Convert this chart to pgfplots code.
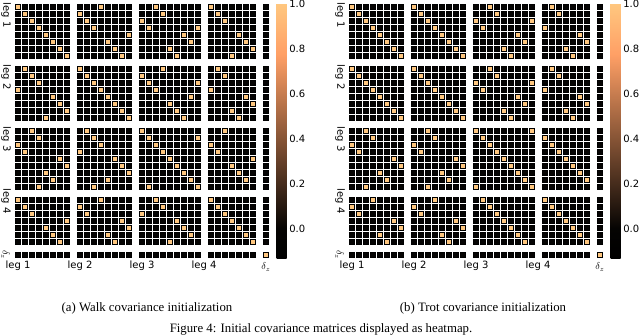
\documentclass[border=0pt]{standalone}
\usepackage{pgfplots}
\pgfplotsset{compat=1.18}
\usepackage{pgfplotstable}
\usepackage{fontspec}
\setmainfont{DejaVu Sans}
\newfontfamily\capfont{Liberation Serif}

% walk: rows = leg 1..4 (8 each) + delta_z
\pgfplotstableread[header=false]{
1 0 0 0 0 0 0 0  0 0 0 1 0 0 0 0  0 0 1 0 0 0 0 0  0 1 0 0 0 0 0 0  0
0 1 0 0 0 0 0 0  1 0 0 0 0 0 0 0  0 0 0 1 0 0 0 0  0 0 1 0 0 0 0 0  0
0 0 1 0 0 0 0 0  0 1 0 0 0 0 0 0  1 0 0 0 0 0 0 0  0 0 0 1 0 0 0 0  0
0 0 0 1 0 0 0 0  0 0 1 0 0 0 0 0  0 1 0 0 0 0 0 0  1 0 0 0 0 0 0 0  0
0 0 0 0 1 0 0 0  0 0 0 0 0 0 0 1  0 0 0 0 0 0 1 0  0 0 0 0 0 1 0 0  0
0 0 0 0 0 1 0 0  0 0 0 0 1 0 0 0  0 0 0 0 0 0 0 1  0 0 0 0 0 0 1 0  0
0 0 0 0 0 0 1 0  0 0 0 0 0 1 0 0  0 0 0 0 1 0 0 0  0 0 0 0 0 0 0 1  0
0 0 0 0 0 0 0 1  0 0 0 0 0 0 1 0  0 0 0 0 0 1 0 0  0 0 0 0 1 0 0 0  0
0 1 0 0 0 0 0 0  1 0 0 0 0 0 0 0  0 0 0 1 0 0 0 0  0 0 1 0 0 0 0 0  0
0 0 1 0 0 0 0 0  0 1 0 0 0 0 0 0  1 0 0 0 0 0 0 0  0 0 0 1 0 0 0 0  0
0 0 0 1 0 0 0 0  0 0 1 0 0 0 0 0  0 1 0 0 0 0 0 0  1 0 0 0 0 0 0 0  0
1 0 0 0 0 0 0 0  0 0 0 1 0 0 0 0  0 0 1 0 0 0 0 0  0 1 0 0 0 0 0 0  0
0 0 0 0 0 1 0 0  0 0 0 0 1 0 0 0  0 0 0 0 0 0 0 1  0 0 0 0 0 0 1 0  0
0 0 0 0 0 0 1 0  0 0 0 0 0 1 0 0  0 0 0 0 1 0 0 0  0 0 0 0 0 0 0 1  0
0 0 0 0 0 0 0 1  0 0 0 0 0 0 1 0  0 0 0 0 0 1 0 0  0 0 0 0 1 0 0 0  0
0 0 0 0 1 0 0 0  0 0 0 0 0 0 0 1  0 0 0 0 0 0 1 0  0 0 0 0 0 1 0 0  0
0 0 1 0 0 0 0 0  0 1 0 0 0 0 0 0  1 0 0 0 0 0 0 0  0 0 0 1 0 0 0 0  0
0 0 0 1 0 0 0 0  0 0 1 0 0 0 0 0  0 1 0 0 0 0 0 0  1 0 0 0 0 0 0 0  0
1 0 0 0 0 0 0 0  0 0 0 1 0 0 0 0  0 0 1 0 0 0 0 0  0 1 0 0 0 0 0 0  0
0 1 0 0 0 0 0 0  1 0 0 0 0 0 0 0  0 0 0 1 0 0 0 0  0 0 1 0 0 0 0 0  0
0 0 0 0 0 0 1 0  0 0 0 0 0 1 0 0  0 0 0 0 1 0 0 0  0 0 0 0 0 0 0 1  0
0 0 0 0 0 0 0 1  0 0 0 0 0 0 1 0  0 0 0 0 0 1 0 0  0 0 0 0 1 0 0 0  0
0 0 0 0 1 0 0 0  0 0 0 0 0 0 0 1  0 0 0 0 0 0 1 0  0 0 0 0 0 1 0 0  0
0 0 0 0 0 1 0 0  0 0 0 0 1 0 0 0  0 0 0 0 0 0 0 1  0 0 0 0 0 0 1 0  0
0 0 0 1 0 0 0 0  0 0 1 0 0 0 0 0  0 1 0 0 0 0 0 0  1 0 0 0 0 0 0 0  0
1 0 0 0 0 0 0 0  0 0 0 1 0 0 0 0  0 0 1 0 0 0 0 0  0 1 0 0 0 0 0 0  0
0 1 0 0 0 0 0 0  1 0 0 0 0 0 0 0  0 0 0 1 0 0 0 0  0 0 1 0 0 0 0 0  0
0 0 1 0 0 0 0 0  0 1 0 0 0 0 0 0  1 0 0 0 0 0 0 0  0 0 0 1 0 0 0 0  0
0 0 0 0 0 0 0 1  0 0 0 0 0 0 1 0  0 0 0 0 0 1 0 0  0 0 0 0 1 0 0 0  0
0 0 0 0 1 0 0 0  0 0 0 0 0 0 0 1  0 0 0 0 0 0 1 0  0 0 0 0 0 1 0 0  0
0 0 0 0 0 1 0 0  0 0 0 0 1 0 0 0  0 0 0 0 0 0 0 1  0 0 0 0 0 0 1 0  0
0 0 0 0 0 0 1 0  0 0 0 0 0 1 0 0  0 0 0 0 1 0 0 0  0 0 0 0 0 0 0 1  0
0 0 0 0 0 0 0 0  0 0 0 0 0 0 0 0  0 0 0 0 0 0 0 0  0 0 0 0 0 0 0 0  1
}\walk

% trot
\pgfplotstableread[header=false]{
1 0 0 0 0 0 0 0  1 0 0 0 0 0 0 0  0 0 1 0 0 0 0 0  0 0 1 0 0 0 0 0  0
0 1 0 0 0 0 0 0  0 1 0 0 0 0 0 0  0 0 0 1 0 0 0 0  0 0 0 1 0 0 0 0  0
0 0 1 0 0 0 0 0  0 0 1 0 0 0 0 0  1 0 0 0 0 0 0 0  1 0 0 0 0 0 0 0  0
0 0 0 1 0 0 0 0  0 0 0 1 0 0 0 0  0 1 0 0 0 0 0 0  0 1 0 0 0 0 0 0  0
0 0 0 0 1 0 0 0  0 0 0 0 1 0 0 0  0 0 0 0 0 0 1 0  0 0 0 0 0 0 1 0  0
0 0 0 0 0 1 0 0  0 0 0 0 0 1 0 0  0 0 0 0 0 0 0 1  0 0 0 0 0 0 0 1  0
0 0 0 0 0 0 1 0  0 0 0 0 0 0 1 0  0 0 0 0 1 0 0 0  0 0 0 0 1 0 0 0  0
0 0 0 0 0 0 0 1  0 0 0 0 0 0 0 1  0 0 0 0 0 1 0 0  0 0 0 0 0 1 0 0  0
1 0 0 0 0 0 0 0  1 0 0 0 0 0 0 0  0 0 1 0 0 0 0 0  0 0 1 0 0 0 0 0  0
0 1 0 0 0 0 0 0  0 1 0 0 0 0 0 0  0 0 0 1 0 0 0 0  0 0 0 1 0 0 0 0  0
0 0 1 0 0 0 0 0  0 0 1 0 0 0 0 0  1 0 0 0 0 0 0 0  1 0 0 0 0 0 0 0  0
0 0 0 1 0 0 0 0  0 0 0 1 0 0 0 0  0 1 0 0 0 0 0 0  0 1 0 0 0 0 0 0  0
0 0 0 0 1 0 0 0  0 0 0 0 1 0 0 0  0 0 0 0 0 0 1 0  0 0 0 0 0 0 1 0  0
0 0 0 0 0 1 0 0  0 0 0 0 0 1 0 0  0 0 0 0 0 0 0 1  0 0 0 0 0 0 0 1  0
0 0 0 0 0 0 1 0  0 0 0 0 0 0 1 0  0 0 0 0 1 0 0 0  0 0 0 0 1 0 0 0  0
0 0 0 0 0 0 0 1  0 0 0 0 0 0 0 1  0 0 0 0 0 1 0 0  0 0 0 0 0 1 0 0  0
0 0 1 0 0 0 0 0  0 0 1 0 0 0 0 0  1 0 0 0 0 0 0 0  1 0 0 0 0 0 0 0  0
0 0 0 1 0 0 0 0  0 0 0 1 0 0 0 0  0 1 0 0 0 0 0 0  0 1 0 0 0 0 0 0  0
1 0 0 0 0 0 0 0  1 0 0 0 0 0 0 0  0 0 1 0 0 0 0 0  0 0 1 0 0 0 0 0  0
0 1 0 0 0 0 0 0  0 1 0 0 0 0 0 0  0 0 0 1 0 0 0 0  0 0 0 1 0 0 0 0  0
0 0 0 0 0 0 1 0  0 0 0 0 0 0 1 0  0 0 0 0 1 0 0 0  0 0 0 0 1 0 0 0  0
0 0 0 0 0 0 0 1  0 0 0 0 0 0 0 1  0 0 0 0 0 1 0 0  0 0 0 0 0 1 0 0  0
0 0 0 0 1 0 0 0  0 0 0 0 1 0 0 0  0 0 0 0 0 0 1 0  0 0 0 0 0 0 1 0  0
0 0 0 0 0 1 0 0  0 0 0 0 0 1 0 0  0 0 0 0 0 0 0 1  0 0 0 0 0 0 0 1  0
0 0 1 0 0 0 0 0  0 0 1 0 0 0 0 0  1 0 0 0 0 0 0 0  1 0 0 0 0 0 0 0  0
0 0 0 1 0 0 0 0  0 0 0 1 0 0 0 0  0 1 0 0 0 0 0 0  0 1 0 0 0 0 0 0  0
1 0 0 0 0 0 0 0  1 0 0 0 0 0 0 0  0 0 1 0 0 0 0 0  0 0 1 0 0 0 0 0  0
0 1 0 0 0 0 0 0  0 1 0 0 0 0 0 0  0 0 0 1 0 0 0 0  0 0 0 1 0 0 0 0  0
0 0 0 0 0 0 1 0  0 0 0 0 0 0 1 0  0 0 0 0 1 0 0 0  0 0 0 0 1 0 0 0  0
0 0 0 0 0 0 0 1  0 0 0 0 0 0 0 1  0 0 0 0 0 1 0 0  0 0 0 0 0 1 0 0  0
0 0 0 0 1 0 0 0  0 0 0 0 1 0 0 0  0 0 0 0 0 0 1 0  0 0 0 0 0 0 1 0  0
0 0 0 0 0 1 0 0  0 0 0 0 0 1 0 0  0 0 0 0 0 0 0 1  0 0 0 0 0 0 0 1  0
0 0 0 0 0 0 0 0  0 0 0 0 0 0 0 0  0 0 0 0 0 0 0 0  0 0 0 0 0 0 0 0  1
}\trot

% cell pitch 7pt, extra 6pt between blocks (6/7 of a cell)
\pgfplotsset{
  colormap={copper}{rgb(0cm)=(0,0,0) rgb(1.17cm)=(0.02,0.015,0.01)
    rgb(8cm)=(1,0.625,0.398) rgb(10cm)=(1,0.7812,0.4975)},
  cellplot/.style={scatter, only marks, mark=square*, mark size=2.5pt,
    point meta=explicit,
    scatter/use mapped color={draw=none, fill=mapped color}},
  heat/.style={
    x=7pt, y=7pt, y dir=reverse,
    xmin=-0.5, xmax=35.9286, ymin=-0.5, ymax=35.9286,
    enlargelimits=false,
    anchor=north west, clip=false,
    axis line style={draw=none}, xtick=\empty, ytick=\empty,
    colormap name=copper,
    point meta min=-0.133, point meta max=1,
    colorbar,
    colorbar style={
      at={(parent axis.north east)}, anchor=north west, xshift=-1.3pt,
      width=10pt, y dir=normal,
      ytick={0,0.2,0.4,0.6,0.8,1},
      major tick length=0pt,
      axis line style={draw=none},
      yticklabel style={xshift=-1pt,
        /pgf/number format/fixed,
        /pgf/number format/fixed zerofill,
        /pgf/number format/precision=1,
        /pgf/number format/assume math mode=true},
    },
  },
}

\begin{document}
\begin{tikzpicture}
\useasboundingbox (0,0) rectangle (640pt,336pt);

\begin{axis}[heat, at={(14.5pt,332.5pt)}]
\pgfplotsinvokeforeach{0,...,32}{
  \addplot[cellplot] table[x expr={#1+(6/7)*floor(#1/8)},
    y expr={\coordindex+(6/7)*floor(\coordindex/8)}, meta index=#1] {\walk};
}
\node[anchor=north, inner sep=0pt, yshift=-2pt] at (axis cs:0,35.93) {leg 1};
\node[anchor=north, inner sep=0pt, yshift=-2pt] at (axis cs:8.857,35.93) {leg 2};
\node[anchor=north, inner sep=0pt, yshift=-2pt] at (axis cs:17.714,35.93) {leg 3};
\node[anchor=north, inner sep=0pt, yshift=-2pt] at (axis cs:26.571,35.93) {leg 4};
\node[anchor=north, inner sep=0pt, yshift=-4pt] at (axis cs:35.43,35.93) {$\delta_z$};
\node[rotate=-90, anchor=west, inner sep=0pt] at (axis cs:-1.7,-0.64) {leg 1};
\node[rotate=-90, anchor=west, inner sep=0pt] at (axis cs:-1.7,8.217) {leg 2};
\node[rotate=-90, anchor=west, inner sep=0pt] at (axis cs:-1.7,17.074) {leg 3};
\node[rotate=-90, anchor=west, inner sep=0pt] at (axis cs:-1.7,25.931) {leg 4};
\node[rotate=-90, inner sep=0pt] at (axis cs:-1.8,35.43) {$\delta_z$};
\end{axis}

\begin{axis}[heat, at={(348.5pt,332.5pt)}]
\pgfplotsinvokeforeach{0,...,32}{
  \addplot[cellplot] table[x expr={#1+(6/7)*floor(#1/8)},
    y expr={\coordindex+(6/7)*floor(\coordindex/8)}, meta index=#1] {\trot};
}
\node[anchor=north, inner sep=0pt, yshift=-2pt] at (axis cs:0,35.93) {leg 1};
\node[anchor=north, inner sep=0pt, yshift=-2pt] at (axis cs:8.857,35.93) {leg 2};
\node[anchor=north, inner sep=0pt, yshift=-2pt] at (axis cs:17.714,35.93) {leg 3};
\node[anchor=north, inner sep=0pt, yshift=-2pt] at (axis cs:26.571,35.93) {leg 4};
\node[anchor=north, inner sep=0pt, yshift=-4pt] at (axis cs:35.43,35.93) {$\delta_z$};
\node[rotate=-90, anchor=west, inner sep=0pt] at (axis cs:-1.7,-0.64) {leg 1};
\node[rotate=-90, anchor=west, inner sep=0pt] at (axis cs:-1.7,8.217) {leg 2};
\node[rotate=-90, anchor=west, inner sep=0pt] at (axis cs:-1.7,17.074) {leg 3};
\node[rotate=-90, anchor=west, inner sep=0pt] at (axis cs:-1.7,25.931) {leg 4};
\node[rotate=-90, inner sep=0pt] at (axis cs:-1.8,35.43) {$\delta_z$};
\end{axis}

\node[font=\capfont\fontsize{12.8}{15}\selectfont] at (147pt,28pt) {(a) Walk covariance initialization};
\node[font=\capfont\fontsize{12.8}{15}\selectfont] at (483pt,28pt) {(b) Trot covariance initialization};
\node[font=\capfont\fontsize{12.8}{15}\selectfont] at (321pt,7pt) {Figure 4: Initial covariance matrices displayed as heatmap.};
\end{tikzpicture}
\end{document}
